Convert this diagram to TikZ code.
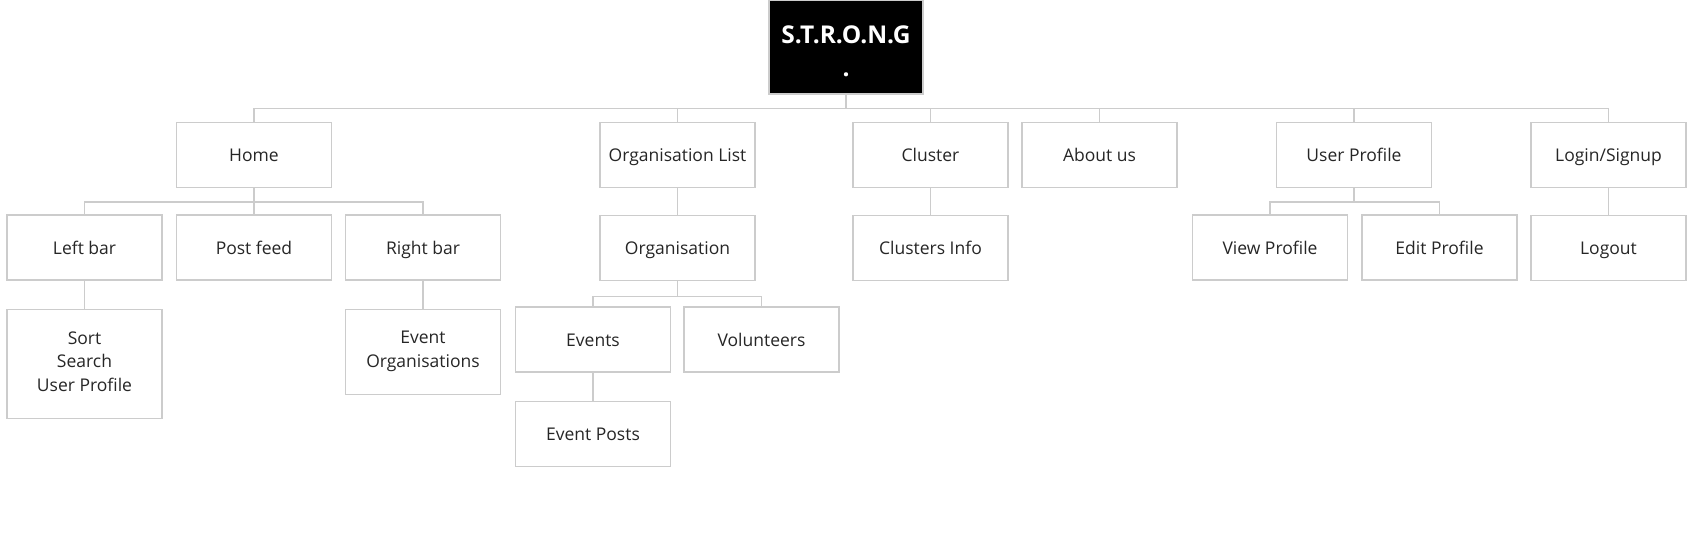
\documentclass[tikz,border=0pt]{standalone}
\usepackage{fontspec}
\setmainfont{Open Sans}
\usepackage{tikz}
\usetikzlibrary{positioning}

\begin{document}
\begin{tikzpicture}[x=1pt,y=-1pt,node distance=27pt]

\tikzset{pagebox/.style={draw=black!20, line width=1.3pt, fill=white, text=black!85,
    minimum width=155pt, minimum height=65pt, inner sep=0pt, align=center,
    execute at begin node=\rule{0pt}{18pt}, execute at end node=\rule[-4.6pt]{0pt}{4.6pt},
    font=\fontsize{17.5}{23.5}\selectfont},
  titlebox/.style={draw=black!20, line width=1.3pt, fill=black, text=white,
    minimum width=154pt, minimum height=94pt, inner sep=0pt, align=center,
    text height=60pt, text depth=0pt, font=\fontsize{24.5}{33}\selectfont\bfseries},
  link/.style={draw=black!20, line width=1.3pt}}

\useasboundingbox (0,0) rectangle (1700,545);

% root
\node[titlebox] (root) at (846,47) {S.T.R.O.N.G\\.};

% first level
\node[pagebox] (home)    at (254,155)    {Home};
\node[pagebox] (orglist) at (677.5,155)  {Organisation List};
\node[pagebox] (cluster) at (930.5,155)  {Cluster};
\node[pagebox] (about)   at (1099.5,155) {About us};
\node[pagebox] (profile) at (1354,155)   {User Profile};
\node[pagebox] (login)   at (1608.5,155) {Login/Signup};

% second level
\node[pagebox] (leftbar)  at (84.5,247.5) {Left bar};
\node[pagebox] (postfeed) at (254,247.5)  {Post feed};
\node[pagebox] (rightbar) at (423,247.5)  {Right bar};
\node[pagebox, below=of orglist] (org)    {Organisation};
\node[pagebox, below=of cluster] (clinfo) {Clusters Info};
\node[pagebox] (viewprof) at (1270,247.5)   {View Profile};
\node[pagebox] (editprof) at (1439.5,247.5) {Edit Profile};
\node[pagebox, below=of login] (logout)   {Logout};

% third level
\node[pagebox, minimum height=109pt, below=28pt of leftbar] (sort) {Sort\\Search\\User Profile};
\node[pagebox, minimum height=85pt, below=28pt of rightbar] (eventorg) {Event\\Organisations};
\node[pagebox] (events)     at (593,339.5)   {Events};
\node[pagebox] (volunteers) at (761.5,339.5) {Volunteers};
\node[pagebox, below=28pt of events] (eventposts) {Event Posts};

% connectors
\foreach \c in {home,orglist,cluster,about,profile,login}
  \draw[link] (root.south) -- ++(0,14) -| (\c.north);
\foreach \c in {leftbar,postfeed,rightbar}
  \draw[link] (home.south) -- ++(0,14) -| (\c.north);
\foreach \c in {events,volunteers}
  \draw[link] (org.south) -- ++(0,15) -| (\c.north);
\foreach \c in {viewprof,editprof}
  \draw[link] (profile.south) -- ++(0,14) -| (\c.north);
\draw[link] (orglist.south) -- (org.north);
\draw[link] (cluster.south) -- (clinfo.north);
\draw[link] (login.south) -- (logout.north);
\draw[link] (leftbar.south) -- (sort.north);
\draw[link] (rightbar.south) -- (eventorg.north);
\draw[link] (events.south) -- (eventposts.north);

\end{tikzpicture}
\end{document}
